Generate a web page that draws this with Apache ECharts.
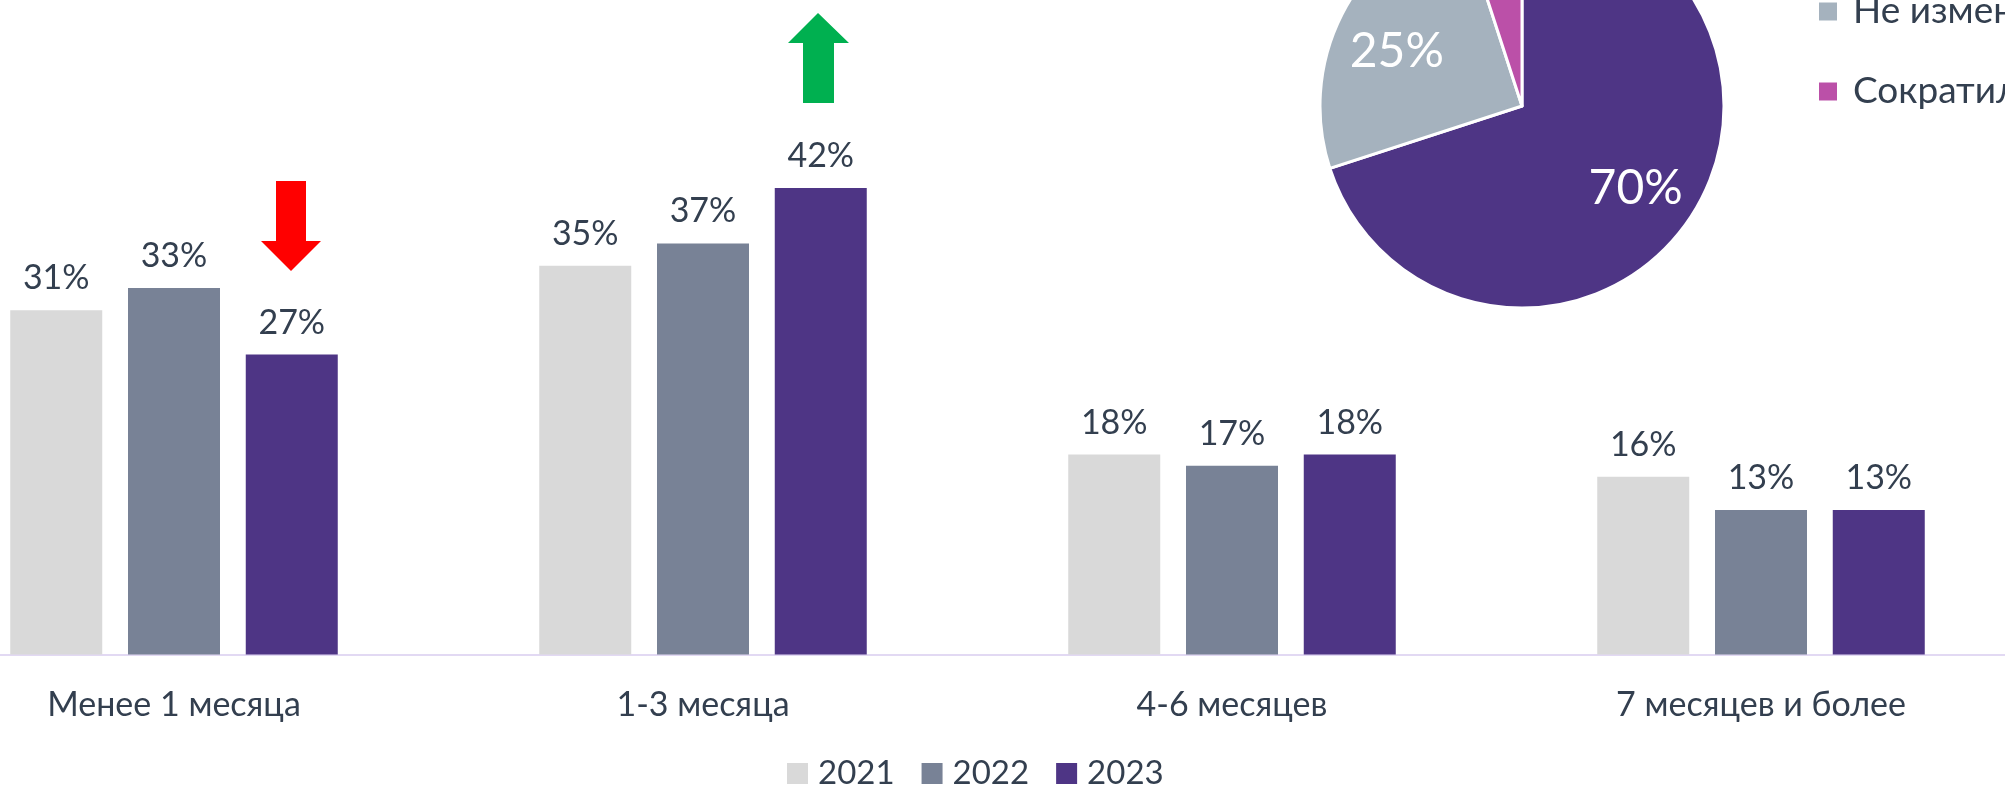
<!DOCTYPE html>
<html>
<head>
<meta charset="utf-8">
<script src="https://cdn.jsdelivr.net/npm/echarts@6/dist/echarts.min.js"></script>
<style>
  html, body { margin: 0; padding: 0; background: #fff; }
  #main { width: 2005px; height: 786px; }
</style>
</head>
<body>
<div id="main"></div>
<script>
// срок по категориям, %
const categories = ['Менее 1 месяца', '1-3 месяца', '4-6 месяцев', '7 месяцев и более'];
const years = ['2021', '2022', '2023'];
const values2021 = [31, 35, 18, 16];
const values2022 = [33, 37, 17, 13];
const values2023 = [27, 42, 18, 13];

// круговая диаграмма
const pieNames = ['Увеличился', 'Не изменился', 'Сократился'];
const pieValues = [70, 25, 5];

const textColor = '#333f4f';
const barColors = ['#d9d9d9', '#788296', '#4e3585'];
const pieColors = ['#4e3585', '#a5b2be', '#bb50a8'];
const font = 'Lato';

const chart = echarts.init(document.getElementById('main'));

const barSeries = [values2021, values2022, values2023].map((vals, i) => ({
    name: years[i],
    type: 'bar',
    barWidth: 92,
    barGap: '28%',
    itemStyle: { color: barColors[i] },
    label: {
        show: true,
        position: 'top',
        distance: 15,
        formatter: '{c}%',
        fontFamily: font,
        fontSize: 34,
        color: textColor
    },
    silent: true,
    data: vals
}));

const pieData = pieNames.map((n, i) => ({
    name: n,
    value: pieValues[i],
    itemStyle: { color: pieColors[i] }
}));

let option = {
    animation: false,
    backgroundColor: '#fff',
    textStyle: { fontFamily: font },
    grid: {
        left: -90.5,
        right: -20.5,
        top: -12,
        bottom: 131.5,
        containLabel: false,
        outerBoundsMode: 'none'
    },
    legend: [
        {
            data: years,
            left: 782,
            top: 752,
            icon: 'rect',
            itemWidth: 21,
            itemHeight: 21,
            itemGap: 27,
            textStyle: {
                fontFamily: font,
                fontSize: 33,
                color: textColor,
                padding: [0, 0, 0, 5]
            }
        },
        {
            data: pieNames.map((n, i) => ({ name: n, itemStyle: { color: pieColors[i] } })),
            orient: 'vertical',
            left: 1812,
            top: -92,
            icon: 'rect',
            itemWidth: 20,
            itemHeight: 20,
            itemGap: 43,
            textStyle: {
                fontFamily: font,
                fontSize: 37,
                color: textColor,
                padding: [0, 0, 0, 10]
            }
        }
    ],
    xAxis: {
        type: 'category',
        data: categories,
        axisTick: { show: false },
        axisLine: { lineStyle: { color: '#e2d9f3', width: 2 } },
        axisLabel: {
            margin: 34,
            fontFamily: font,
            fontSize: 34,
            color: textColor
        }
    },
    yAxis: {
        type: 'value',
        min: 0,
        max: 60,
        show: false,
        splitLine: { show: false }
    },
    series: barSeries.concat([
        {
            type: 'pie',
            center: [1522, 106],
            radius: 202,
            startAngle: 90,
            clockwise: true,
            avoidLabelOverlap: false,
            silent: true,
            label: { show: false },
            labelLine: { show: false },
            itemStyle: { borderColor: '#fff', borderWidth: 3 },
            data: pieData
        },
        {
            // только подписи, чуть дальше от центра
            type: 'pie',
            center: [1522, 106],
            radius: [73, 202],
            startAngle: 90,
            clockwise: true,
            avoidLabelOverlap: false,
            silent: true,
            labelLine: { show: false },
            itemStyle: { color: 'rgba(0,0,0,0)', borderWidth: 0 },
            label: {
                show: true,
                position: 'inside',
                formatter: '{c}%',
                fontFamily: font,
                fontSize: 48,
                color: '#fff'
            },
            data: pieNames.map((n, i) => ({
                name: n,
                value: pieValues[i],
                label: i === 1 ? { offset: [0, 9] } : undefined
            }))
        }
    ]),
    // стрелки динамики 2023
    graphic: [
        {
            type: 'polygon',
            silent: true,
            shape: { points: [[276, 181], [306, 181], [306, 241], [321, 241], [291, 271], [261, 241], [276, 241]] },
            style: { fill: '#ff0000' }
        },
        {
            type: 'polygon',
            silent: true,
            shape: { points: [[818, 13], [849, 43], [834, 43], [834, 103], [803, 103], [803, 43], [788, 43]] },
            style: { fill: '#00b050' }
        }
    ]
};

chart.setOption(option);
</script>
</body>
</html>
